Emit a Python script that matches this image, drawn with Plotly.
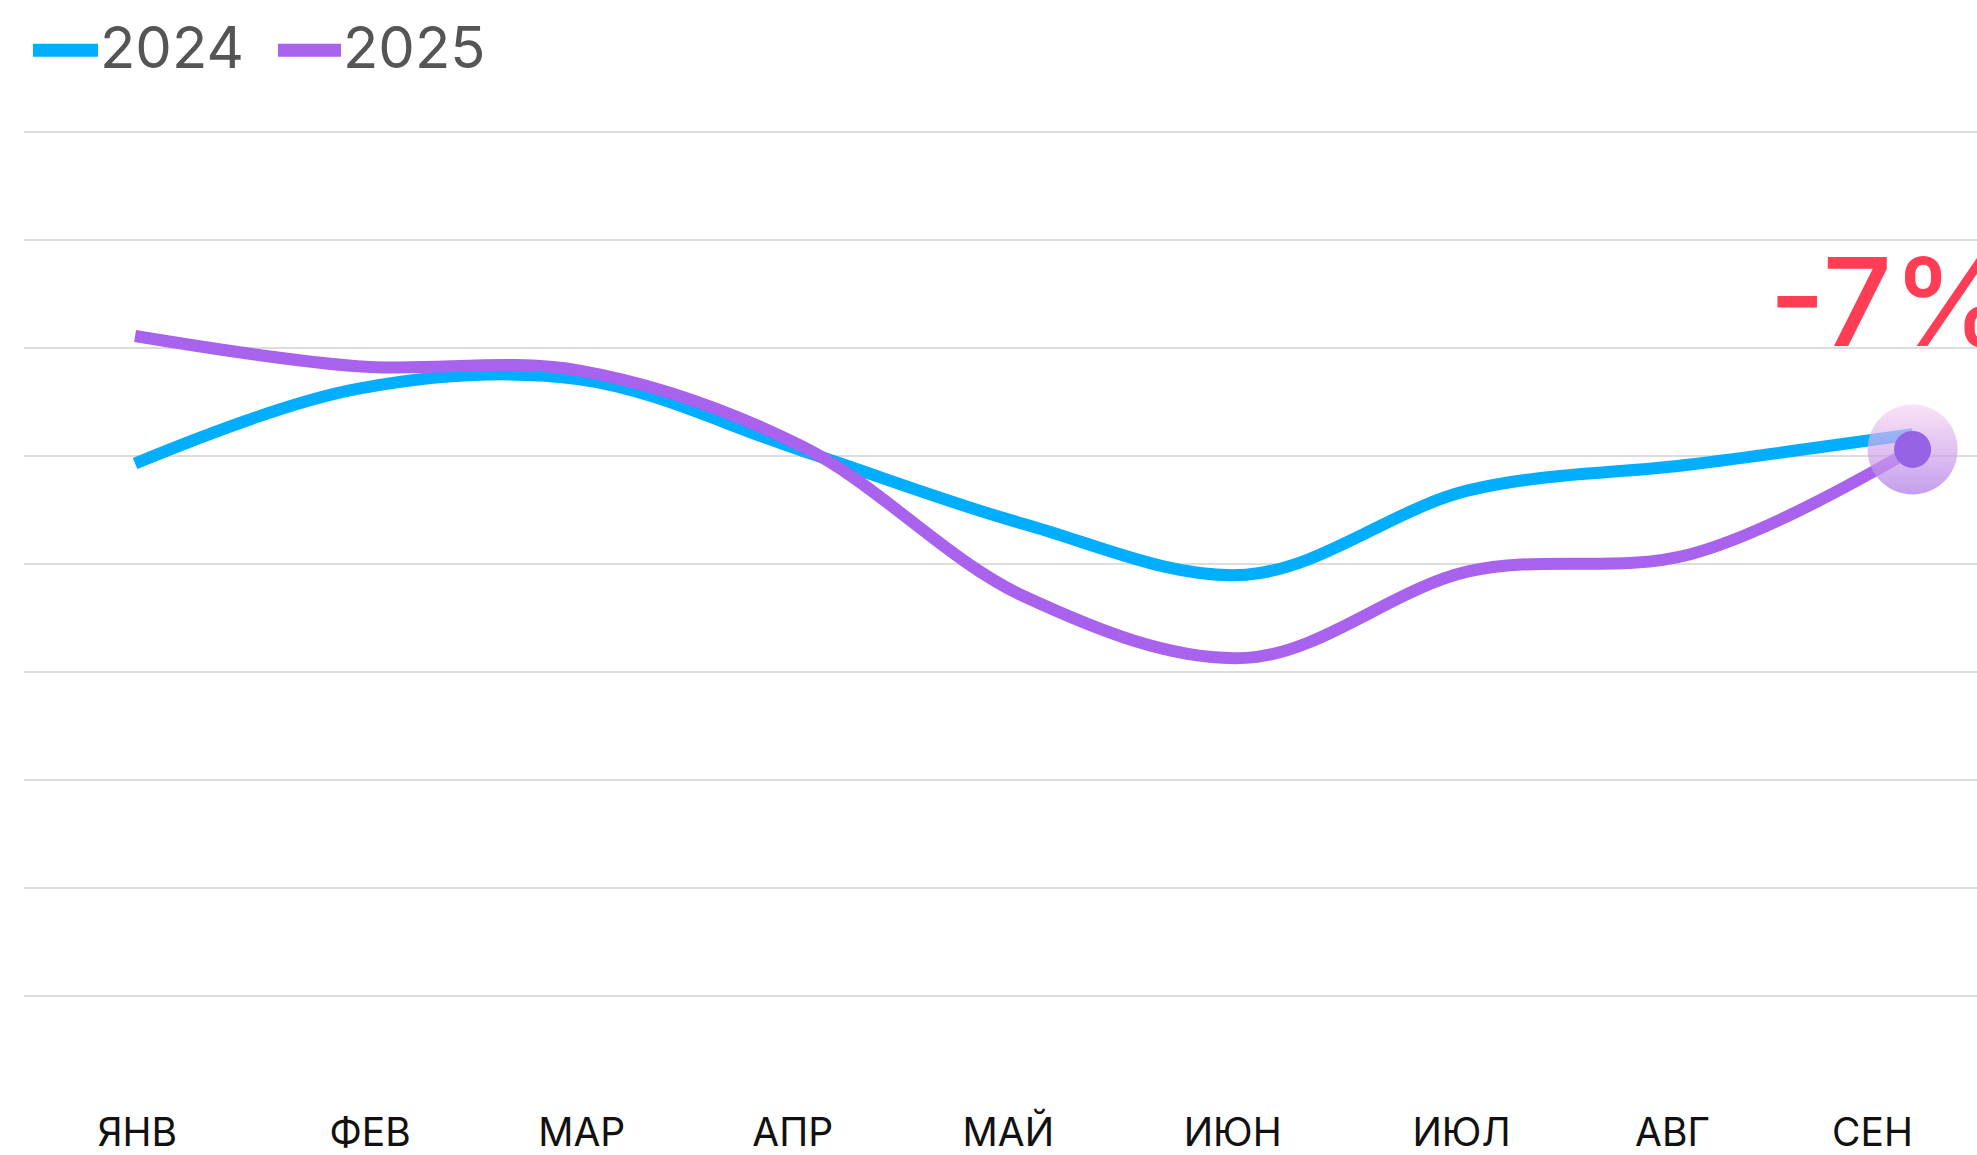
import plotly.graph_objects as go

# ---- data ----
months = ["ЯНВ", "ФЕВ", "МАР", "АПР", "МАЙ", "ИЮН", "ИЮЛ", "АВГ", "СЕН"]
x_idx = list(range(len(months)))
values_2024 = [49.3, 56.2, 57.1, 50.5, 43.7, 39.0, 46.8, 49.2, 52.0]
values_2025 = [61.1, 58.3, 57.9, 50.9, 37.0, 31.3, 39.3, 40.9, 50.6]
change_label = "-7%"
series_names = ["2024", "2025"]

# ---- layout constants ----
W, H = 1977, 1155
ML, MR, MT, MB = 24, 0, 100, 43
label_pos = [0.01, 1.058, 2.01, 2.96, 3.93, 4.94, 5.97, 6.92, 7.82]
grid_vals = [0, 10, 20, 30, 40, 50, 60, 70, 80]
C24 = "#00AEFF"
C25 = "#A862EE"
FONT = "Inter"

fig = go.Figure()
fig.add_trace(go.Scatter(x=x_idx, y=values_2024, mode="lines", name=series_names[0],
                         line=dict(color=C24, width=12, shape="spline", smoothing=1.0),
                         hoverinfo="skip", showlegend=False))
fig.add_trace(go.Scatter(x=x_idx, y=values_2025, mode="lines", name=series_names[1],
                         line=dict(color=C25, width=12, shape="spline", smoothing=1.0),
                         hoverinfo="skip", showlegend=False))
# highlight ring at last 2025 point
fig.add_trace(go.Scatter(x=[x_idx[-1]], y=[values_2025[-1]], mode="markers",
                         marker=dict(size=90, color="rgba(247,210,240,0.65)",
                                     gradient=dict(type="vertical", color="rgba(176,125,230,0.75)"),
                                     line=dict(width=0)),
                         hoverinfo="skip", showlegend=False))
fig.add_trace(go.Scatter(x=[x_idx[-1]], y=[values_2025[-1]], mode="markers",
                         marker=dict(size=37, color="#9663E6", line=dict(width=0)),
                         hoverinfo="skip", showlegend=False))

plot_w = W - ML - MR
plot_h = H - MT - MB

def px_x(p):
    return (p - ML) / plot_w

def px_y(p):
    return (H - MB - p) / plot_h

# manual legend
shapes = []
annotations = []
for (x0, x1, tx), col, name in zip([(33, 98, 98), (278, 341, 341)], [C24, C25], series_names):
    shapes.append(dict(type="line", xref="paper", yref="paper",
                       x0=px_x(x0), x1=px_x(x1), y0=px_y(50), y1=px_y(50),
                       line=dict(color=col, width=13)))
    annotations.append(dict(xref="paper", yref="paper", x=px_x(tx), y=px_y(47),
                            xanchor="left", yanchor="middle", showarrow=False,
                            text=name, font=dict(family=FONT, size=58, color="#555555")))

annotations.append(dict(xref="x", yref="y", x=7.345, y=64.3, xanchor="left", yanchor="middle",
                        showarrow=False, text=change_label,
                        font=dict(family=FONT, size=122, color="#FF3D55", weight=500)))

fig.update_layout(
    width=W, height=H,
    margin=dict(l=ML, r=MR, t=MT, b=MB),
    paper_bgcolor="white", plot_bgcolor="white",
    shapes=shapes, annotations=annotations,
    showlegend=False,
    xaxis=dict(range=[-0.5, 8.29], tickmode="array", tickvals=label_pos, ticktext=months,
               showgrid=False, zeroline=False, showline=False, ticks="",
               tickfont=dict(family=FONT, size=39, color="#111111"), fixedrange=True),
    yaxis=dict(range=[-10.19, 82.95], tickmode="array", tickvals=grid_vals,
               showticklabels=False, showgrid=True, gridcolor="#DDDDDD", gridwidth=2,
               zeroline=False, showline=False, ticks="", fixedrange=True),
)

fig.write_html("out.html", config={"displayModeBar": False},
               post_script="document.body.style.margin='0';document.body.style.overflow='hidden';")
